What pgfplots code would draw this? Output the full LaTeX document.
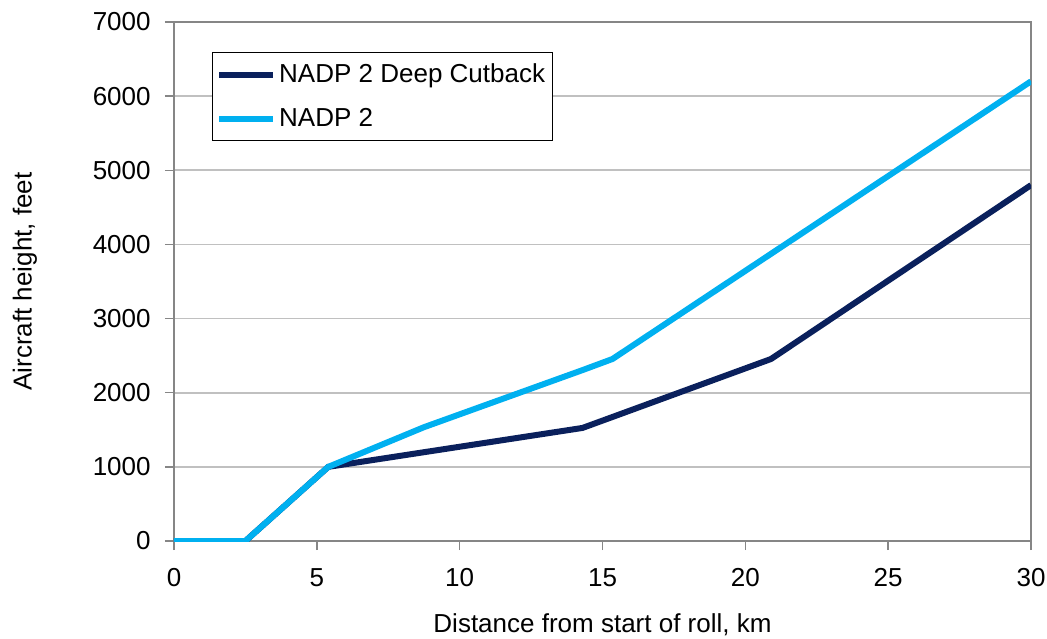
\documentclass[border=0pt]{standalone}
\usepackage{fontspec}
\setmainfont{Liberation Sans}
\usepackage{pgfplots}
\pgfplotsset{compat=1.18}

\definecolor{navyline}{HTML}{0A205C}
\definecolor{skyline}{HTML}{00B0F0}
\definecolor{axisgray}{HTML}{868686}
\definecolor{gridgray}{HTML}{C0C0C0}

\begin{document}
\begin{tikzpicture}
    \begin{axis}[
        scale only axis,
        width=428.5pt, height=259.5pt,
        xmin=0, xmax=30, ymin=0, ymax=7000,
        xtick={0,5,...,30},
        ytick={0,1000,...,7000},
        scaled ticks=false,
        /pgf/number format/assume math mode=true,
        /pgf/number format/1000 sep={},
        font=\fontsize{13pt}{15.6pt}\selectfont,
        tick align=outside, tick pos=left,
        major tick length=4.5pt,
        tick style={axisgray, line width=0.7pt},
        axis line style={axisgray, line width=0.7pt},
        ymajorgrids,
        grid style={gridgray, line width=0.8pt},
        xticklabel style={anchor=center, yshift=-14pt},
        yticklabel style={anchor=east, inner sep=0pt, xshift=-7pt},
        xlabel={Distance from start of roll, km},
        ylabel={Aircraft height, feet},
        xlabel style={at={(axis description cs:0.5,-0.162)}, anchor=center},
        ylabel style={at={(axis description cs:-0.1739,0.5)}, anchor=center},
        legend cell align=left,
        legend style={at={(rel axis cs:0.044,0.942)}, anchor=north west,
            draw=black, line width=0.5pt, inner xsep=2pt, inner ysep=4pt,
            row sep=8.5pt,
            nodes={inner sep=1.5pt},
            font=\fontsize{13pt}{15.6pt}\selectfont},
        legend image code/.code={\draw[#1, line width=3pt] (0pt,0pt) -- (27pt,0pt);},
    ]
    \addplot[navyline, line width=3pt] coordinates {
        (0,0) (2.5,0) (5.4,1000) (14.3,1525) (20.9,2455) (30,4800)
    };
    \addlegendentry{NADP 2 Deep Cutback}
    \addplot[skyline, line width=3pt] coordinates {
        (0,0) (2.5,0) (5.4,1000) (8.75,1535) (14.3,2305) (15.35,2455) (30,6200)
    };
    \addlegendentry{NADP 2}
    \end{axis}
    \pgfresetboundingbox
    \path[use as bounding box] ([xshift=-87pt,yshift=-48.5pt]current axis.south west)
        rectangle ([xshift=8pt,yshift=11pt]current axis.north east);
\end{tikzpicture}
\end{document}
